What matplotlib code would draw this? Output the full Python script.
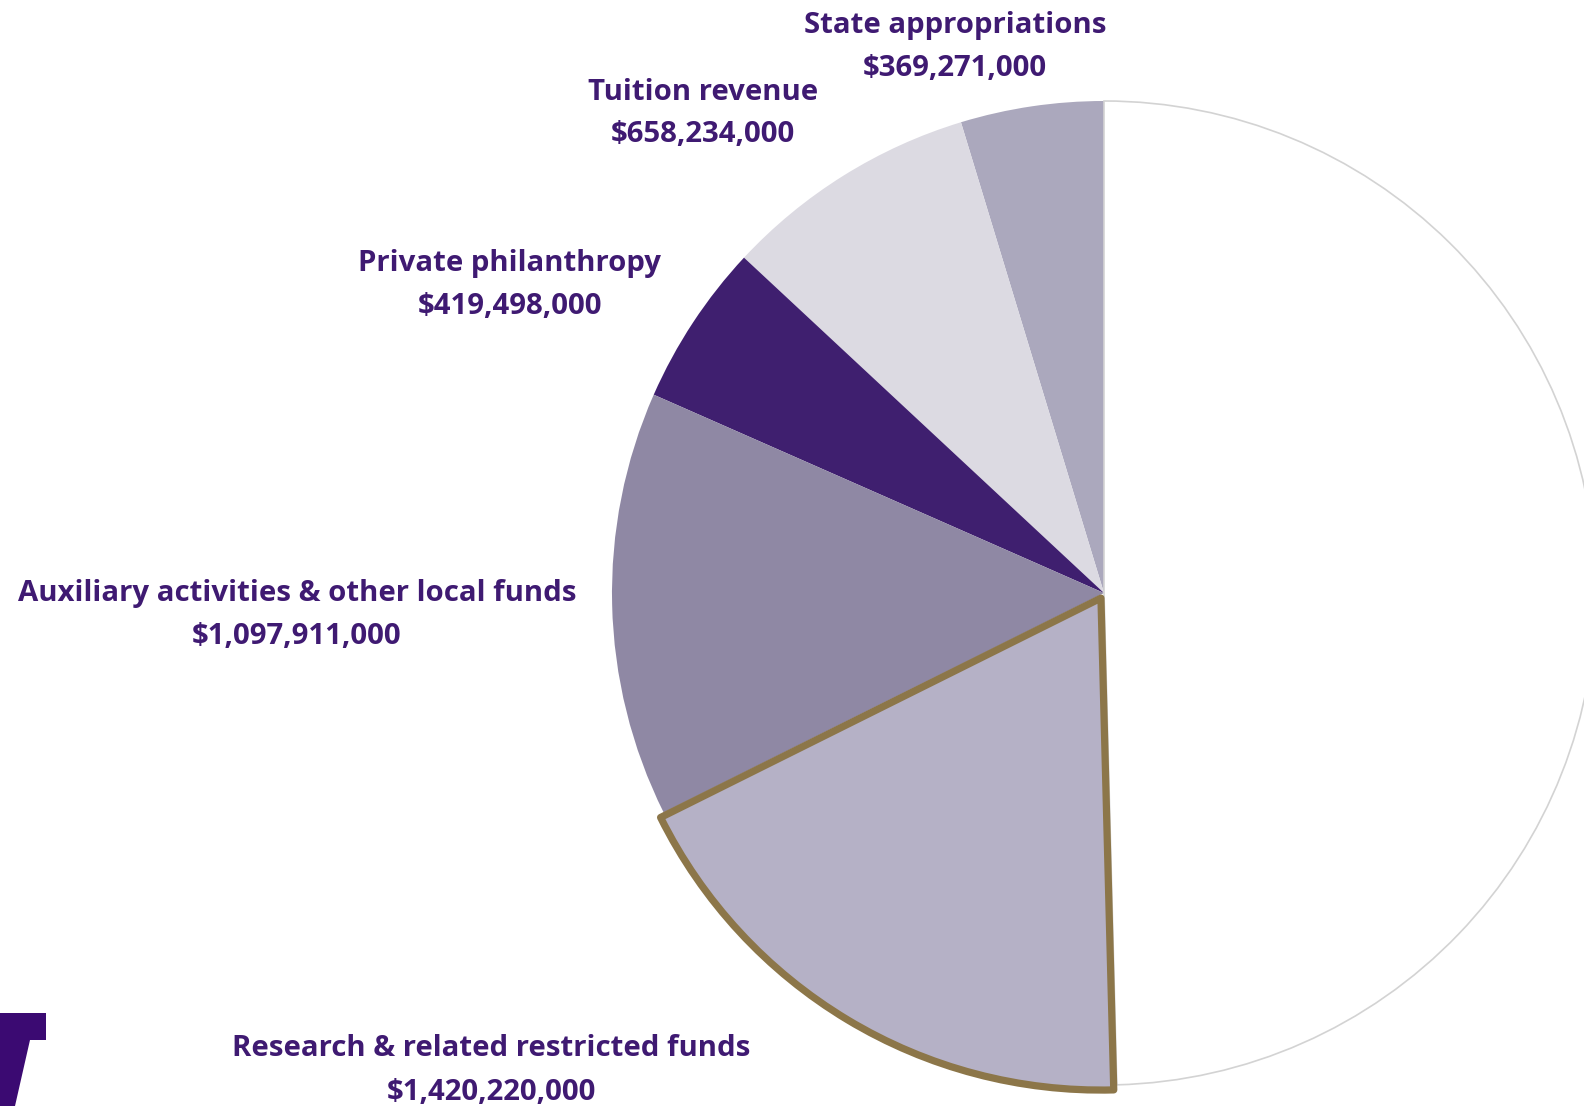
import matplotlib
matplotlib.use('Agg')
import matplotlib.pyplot as plt
from matplotlib.patches import Polygon

# slices, counter-clockwise from 12 o'clock
labels = ["State appropriations", "Tuition revenue", "Private philanthropy",
          "Auxiliary activities & other local funds",
          "Research & related restricted funds", ""]
values = [369271000, 658234000, 419498000, 1097911000, 1420220000, 3900000000]
colors = ["#ABA8BD", "#DCDAE2", "#3F1F6F", "#8F88A4", "#B5B1C6", "#FFFFFF"]
explode = [0, 0, 0, 0, 0.012, 0]

txt_color = "#3F1A72"
W, H = 1584, 1106

fig = plt.figure(figsize=(W / 100, H / 100), dpi=100)
ax = fig.add_axes([0, 0, 1, 1])
ax.set_axis_off()

wedges, _ = ax.pie(values, colors=colors, startangle=90, counterclock=True,
                   explode=explode, radius=1.0)
for w in wedges:
    w.set_edgecolor("none")
wedges[5].set_edgecolor("#D3D3D3")
wedges[5].set_linewidth(1.2)
wedges[5].set_zorder(1)
wedges[4].set_edgecolor("#8C7649")
wedges[4].set_linewidth(5.2)
wedges[4].set_joinstyle("round")
wedges[4].set_zorder(5)

# pie centre at pixel (1104, 593), radius 492 px
cx, cy, r = 1104, 593, 492
ax.set_xlim(-cx / r, (W - cx) / r)
ax.set_ylim(-(H - cy) / r, cy / r)
ax.set_aspect('equal')

# label positions (pixel centres of the two text lines)
label_pos = [(955, 25), (703, 92), (510, 264), (297, 594), (491, 1049)]
fnt = dict(family=["Open Sans", "DejaVu Sans"], fontweight="bold", fontsize=21.2,
           color=txt_color, ha="center", va="center")
for i, (px, py) in enumerate(label_pos):
    fig.text(px / W, 1 - py / H, labels[i], **fnt)
    fig.text(px / W, 1 - (py + 43) / H, "${:,}".format(values[i]), **fnt)

# partial logo at bottom-left corner
logo = [(0, 1013), (46, 1013), (46, 1040), (30, 1040), (15, 1106), (0, 1106)]
fig.patches.append(Polygon([(x / W, 1 - y / H) for x, y in logo], closed=True,
                           transform=fig.transFigure, facecolor="#3B0A72",
                           edgecolor="none"))

fig.savefig("out.png", dpi=100)
